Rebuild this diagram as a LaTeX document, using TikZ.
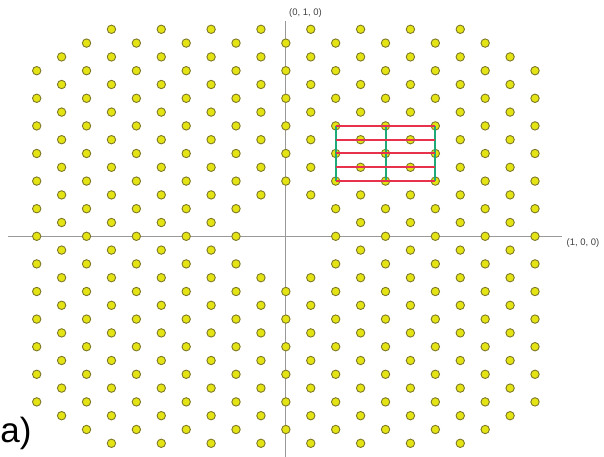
\documentclass[tikz,border=0pt]{standalone}
\usepackage{fontspec}
\setmainfont{Liberation Sans}
\usepackage{tikz}
\definecolor{siteyellow}{RGB}{228,228,20}
\definecolor{siteedge}{RGB}{125,120,40}
\definecolor{gridred}{RGB}{232,50,75}
\definecolor{gridgreen}{RGB}{30,170,120}

\begin{document}
\begin{tikzpicture}[
    x=1pt, y=-1pt,
    atom/.style={circle, draw=siteedge, fill=siteyellow, line width=0.9pt, minimum size=8.4pt, inner sep=0pt},
    axis/.style={draw=gray!80, line width=1.2pt},
    rline/.style={gridred, line width=2pt},
    gline/.style={gridgreen, line width=2pt},
    lbl/.style={text=black!75, font=\fontsize{9.5}{11}\selectfont, inner sep=0pt}
  ]
    \useasboundingbox (0,0) rectangle (604,457);
    % axes
    \coordinate (ytop) at (285.8,21.5);
    \coordinate (ybot) at (285.8,457);
    \coordinate (xleft) at (8,236.5);
    \coordinate (xright) at (562,236.5);
    \draw[axis] (ybot) -- (ytop);
    \draw[axis] (xleft) -- (xright);
    \node[lbl] (ylab) at (305.5,13.5) {(0, 1, 0)};
    \node[lbl] (xlab) at (583,243.5) {(1, 0, 0)};
    % lattice sites
    \foreach \i in {-10,...,10}
      \foreach \j in {-15,...,15} {
        \pgfmathtruncatemacro{\keep}{and(and(mod(abs(\i+\j),2)==0, abs(\i)+abs(\j)<=22), or(abs(\i)>1, abs(\j)>2))}
        \ifnum\keep=1
          \node[atom] (s\i-\j) at (285.85+24.915*\i, 236.3-13.8*\j) {};
        \fi
      }
    % cell grid
    \foreach \col in {2,4,6}
      \draw[gline] (s\col-8.center) -- (s\col-4.center);
    \foreach \row in {8,6,4}
      \draw[rline] (s2-\row.center) -- (s6-\row.center);
    \foreach \row in {7,5}
      \draw[rline] (s2-8 |- s3-\row) -- (s6-8 |- s3-\row);
    \node[font=\fontsize{35}{38}\selectfont, anchor=base west, inner sep=0pt] (tag) at (0.3,442) {a)};
  \end{tikzpicture}
\end{document}
